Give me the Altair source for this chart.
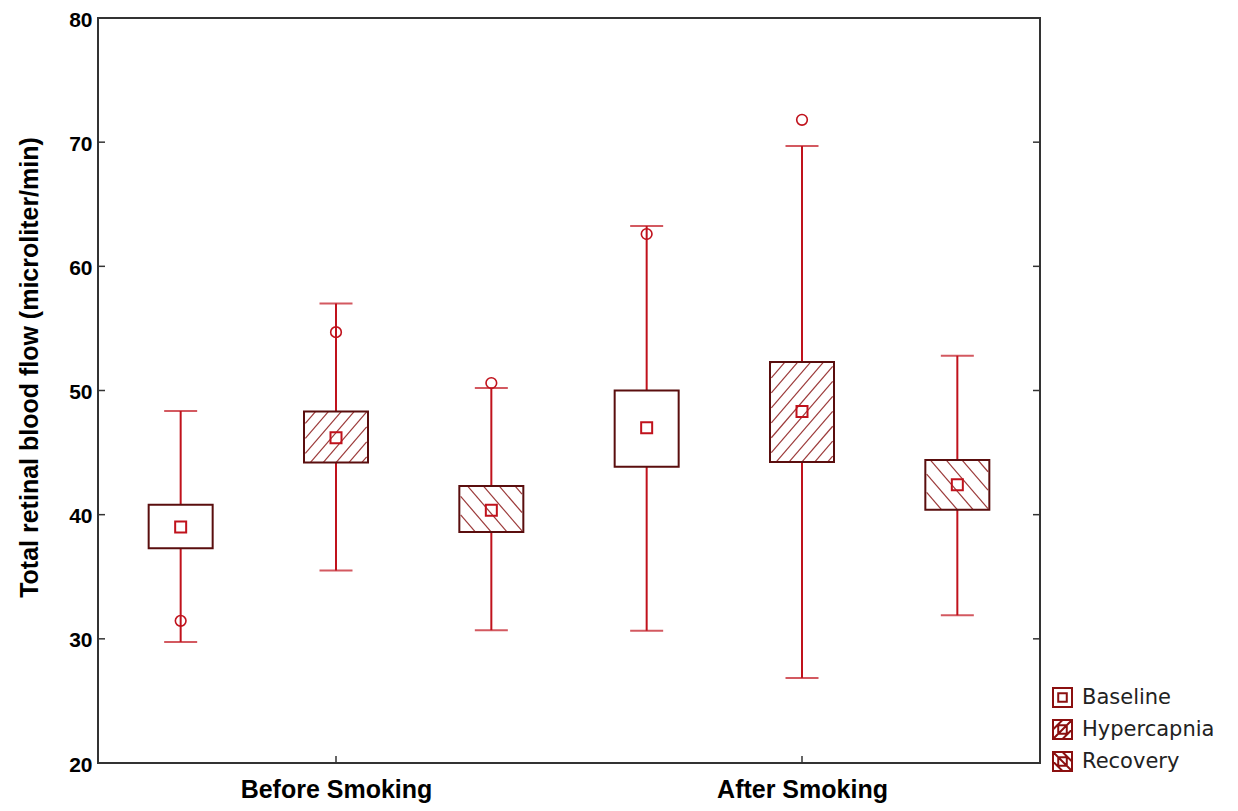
import altair as alt
import pandas as pd

# ---------------- data ----------------
groups = ["Before Smoking", "After Smoking"]
conditions = ["Baseline", "Hypercapnia", "Recovery"]

box_group = ["Before Smoking"] * 3 + ["After Smoking"] * 3
box_cond = ["Baseline", "Hypercapnia", "Recovery"] * 2
whisker_low = [29.75, 35.5, 30.7, 30.65, 26.85, 31.9]
q1 = [37.3, 44.2, 38.6, 43.85, 44.25, 40.4]
means = [39.0, 46.2, 40.35, 47.0, 48.3, 42.4]
q3 = [40.8, 48.3, 42.3, 50.0, 52.3, 44.4]
whisker_high = [48.35, 57.0, 50.2, 63.25, 69.7, 52.8]

outlier_group = ["Before Smoking", "Before Smoking", "Before Smoking", "After Smoking", "After Smoking"]
outlier_cond = ["Baseline", "Hypercapnia", "Recovery", "Baseline", "Hypercapnia"]
outlier_values = [31.45, 54.7, 50.6, 62.6, 71.8]

y_ticks = [20, 30, 40, 50, 60, 70, 80]

# ---------------- styles / layout ----------------
W, H = 942, 745
X_DOMAIN = [0, len(groups) * len(conditions)]
Y_DOMAIN = [20, 80]
PX_X = W / (X_DOMAIN[1] - X_DOMAIN[0])
PX_Y = H / (Y_DOMAIN[1] - Y_DOMAIN[0])
BOX_W = 64
CAP_W = 33
RED = "#c0121c"
MAROON = "#5a0e0e"
HATCH = "#9c3a3a"
FRAME = "#333333"
hatch_style = {"Hypercapnia": (1.15, 13.0), "Recovery": (-1.15, 16.0)}


def pos_of(g, c):
    return groups.index(g) * len(conditions) + conditions.index(c) + 0.5


boxes = pd.DataFrame({
    "group": box_group, "cond": box_cond,
    "wlo": whisker_low, "q1": q1, "mean": means, "q3": q3, "whi": whisker_high,
})
boxes["pos"] = [pos_of(g, c) for g, c in zip(box_group, box_cond)]

outliers = pd.DataFrame({"group": outlier_group, "cond": outlier_cond, "value": outlier_values})
outliers["pos"] = [pos_of(g, c) for g, c in zip(outlier_group, outlier_cond)]


def hatch_segments(pos, lo, hi, slope, spacing):
    w = BOX_W / 2 - 1
    h = (hi - lo) * PX_Y
    step = abs(slope) * spacing
    segs = []
    for k in range(-200, 201):
        c = k * step
        xa, xb = sorted([(0 - c) / slope, (h - c) / slope])
        xa, xb = max(xa, -w), min(xb, w)
        if xb - xa > 0.8:
            segs.append({
                "hx": pos + xa / PX_X, "hy": lo + (slope * xa + c) / PX_Y,
                "hx2": pos + xb / PX_X, "hy2": lo + (slope * xb + c) / PX_Y,
            })
    return segs


hatch_rows = []
for _, r in boxes.iterrows():
    if r["cond"] in hatch_style:
        s, sp = hatch_style[r["cond"]]
        hatch_rows += hatch_segments(r["pos"], r["q1"], r["q3"], s, sp)
hatch_df = pd.DataFrame(hatch_rows)

ticks_df = pd.DataFrame({"t": [t for t in y_ticks if Y_DOMAIN[0] < t < Y_DOMAIN[1]]})
group_centers = [i * len(conditions) + len(conditions) / 2 for i in range(len(groups))]
xt_df = pd.DataFrame({"c": group_centers})

label_expr = " : ".join(
    [f"abs(datum.value - {c}) < 0.01 ? '{g}'" for c, g in zip(group_centers[:-1], groups[:-1])]
    + [f"'{groups[-1]}'"]
)

xscale = alt.Scale(domain=X_DOMAIN, nice=False, zero=False)
yscale = alt.Scale(domain=Y_DOMAIN, nice=False, zero=False)

xaxis = alt.Axis(values=group_centers, labelExpr=label_expr, ticks=False, domain=False, grid=False,
                 title=None, labelFont="Liberation Sans", labelFontWeight="bold", labelFontSize=25,
                 labelColor="#000", labelPadding=14, labelLimit=0)
yaxis = alt.Axis(values=y_ticks, ticks=False, domain=False, grid=False,
                 title="Total retinal blood flow (microliter/min)",
                 titleFont="Liberation Sans", titleFontWeight="bold", titleFontSize=25, titleColor="#000",
                 titlePadding=26, titleY=349,
                 labelFont="Liberation Sans", labelFontWeight="bold", labelFontSize=21,
                 labelColor="#000", labelPadding=6, labelOffset=2)

X = alt.X("pos:Q", scale=xscale, axis=xaxis)
Y = lambda f: alt.Y(f, scale=yscale, axis=yaxis)

base = alt.Chart(boxes)

whiskers = base.mark_rule(color=RED, strokeWidth=2).encode(x=X, y=Y("wlo:Q"), y2="whi:Q")
cap_lo = base.mark_tick(orient="horizontal", color=RED, size=CAP_W, thickness=2).encode(x=X, y=Y("wlo:Q"))
cap_hi = base.mark_tick(orient="horizontal", color=RED, size=CAP_W, thickness=2).encode(x=X, y=Y("whi:Q"))
box_fill = base.mark_bar(size=BOX_W, fill="white", strokeWidth=0).encode(x=X, y=Y("q1:Q"), y2="q3:Q")
hatch = alt.Chart(hatch_df).mark_rule(color=HATCH, strokeWidth=1.2).encode(
    x=alt.X("hx:Q", scale=xscale, axis=xaxis), x2="hx2:Q", y=Y("hy:Q"), y2="hy2:Q")
box_line = base.mark_bar(size=BOX_W, fillOpacity=0, stroke=MAROON, strokeWidth=2).encode(
    x=X, y=Y("q1:Q"), y2="q3:Q")
mean_pts = base.mark_point(shape="square", size=121, color=RED, strokeWidth=2, filled=False,
                           opacity=1).encode(x=X, y=Y("mean:Q"))
out_pts = alt.Chart(outliers).mark_point(shape="circle", size=113, color=RED, strokeWidth=1.6,
                                         filled=False, opacity=1).encode(
    x=alt.X("pos:Q", scale=xscale, axis=xaxis), y=Y("value:Q"))

paths = [
    "M-1,-1H1V1H-1Z M-0.45,-0.45H0.45V0.45H-0.45Z",
    "M-1,-1H1V1H-1Z M-0.45,-0.45H0.45V0.45H-0.45Z M-1,0L0,-1 M-1,1L1,-1 M0,1L1,0",
    "M-1,-1H1V1H-1Z M-0.45,-0.45H0.45V0.45H-0.45Z M-1,0L0,1 M-1,-1L1,1 M0,-1L1,0",
]
legend_layer = base.mark_point(opacity=0, filled=False).encode(
    x=X, y=Y("mean:Q"),
    shape=alt.Shape("cond:N", scale=alt.Scale(domain=conditions, range=paths),
                    legend=alt.Legend(title=None, orient="none", legendX=954, legendY=669,
                                      symbolSize=361, symbolStrokeColor="#8b1010",
                                      symbolStrokeWidth=2, symbolOpacity=1,
                                      symbolFillColor="transparent",
                                      labelFont="DejaVu Sans", labelFontSize=21, labelColor="#222",
                                      labelOffset=9, rowPadding=5, padding=0)),
)

left_ticks = alt.Chart(ticks_df).mark_rule(color=FRAME, strokeWidth=1.5).encode(
    y=Y("t:Q"), x=alt.value(0), x2=alt.value(7))
right_ticks = alt.Chart(ticks_df).mark_rule(color=FRAME, strokeWidth=1.5).encode(
    y=Y("t:Q"), x=alt.value(W - 7), x2=alt.value(W))
bottom_ticks = alt.Chart(xt_df).mark_rule(color=FRAME, strokeWidth=1.5).encode(
    x=alt.X("c:Q", scale=xscale, axis=xaxis), y=alt.value(H - 7), y2=alt.value(H))

chart = alt.layer(
    whiskers, cap_lo, cap_hi, box_fill, hatch, box_line, mean_pts, out_pts, legend_layer,
    left_ticks, right_ticks, bottom_ticks,
).properties(
    width=W, height=H,
    autosize=alt.AutoSizeParams(type="none"),
    padding={"left": 90, "top": 10, "right": 190, "bottom": 45},
    background="white",
).configure_view(stroke=FRAME, strokeWidth=2)

chart.save("out.html", embed_options={"renderer": "svg", "actions": False})
